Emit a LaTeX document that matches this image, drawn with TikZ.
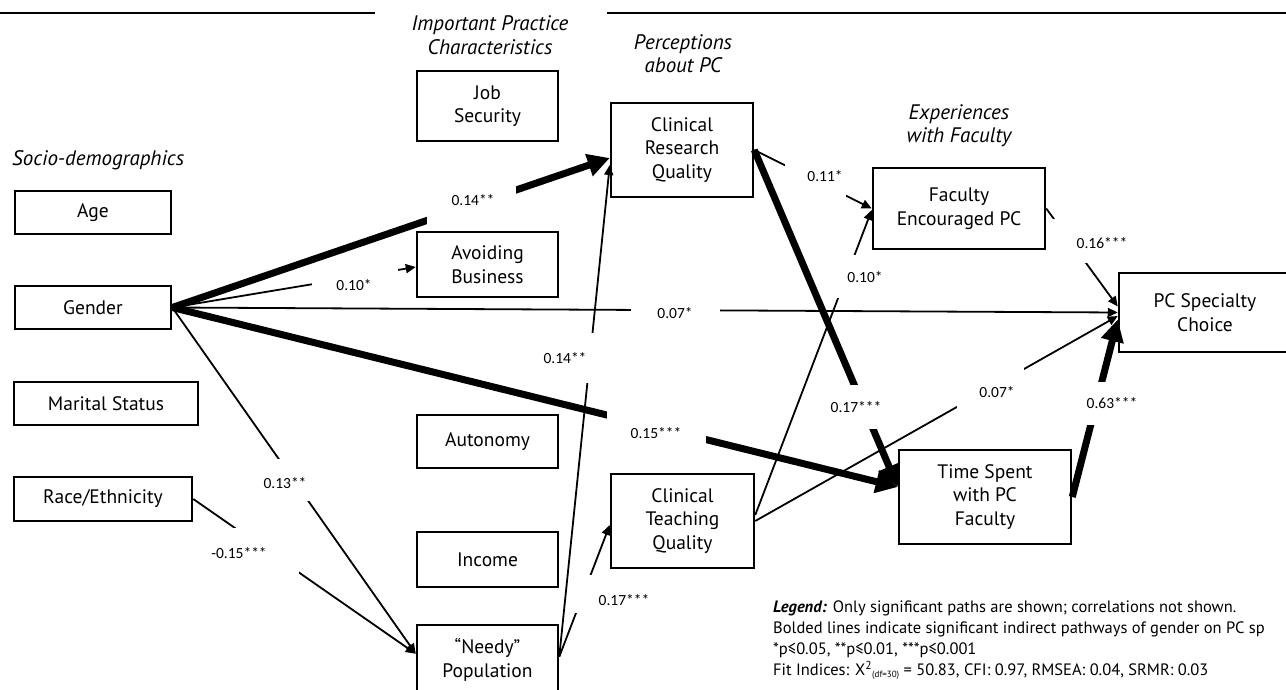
\documentclass[tikz,border=0pt]{standalone}
\usepackage{fontspec}
\setmainfont{PT Sans}
\newfontfamily\lblfont{Carlito}
\usetikzlibrary{arrows.meta,calc}
\begin{document}
\begin{tikzpicture}[x=1pt,y=-1pt,
  box/.style={draw, line width=2.5pt, inner sep=0pt, align=center, font=\fontsize{19.5}{23.5}\selectfont},
  hdr/.style={align=center, inner sep=0pt, font=\fontsize{21}{23.5}\selectfont\itshape},
  thinln/.style={line width=1.8pt, -{Triangle[length=10pt,width=9pt]}},
  thickln/.style={line width=7pt, -{Triangle[length=22pt,width=22pt]}},
  lbl/.style={inner sep=0pt, font=\lblfont\fontsize{15.5}{18}\selectfont},
  rule/.style={line width=2.5pt}
]
\useasboundingbox (0,0) rectangle (1286,690);
\fill[white] (0,0) rectangle (1286,690);

% top rules
\draw[rule] (0,13) -- (375,13);
\draw[rule] (607,13) -- (1286,13);

% headers
\node[hdr, anchor=west] (hsoc) at (12,160) {Socio-demographics};
\node[hdr] (hipc) at (490,35) {Important Practice\\Characteristics};
\node[hdr] (hper) at (683,53.5) {Perceptions\\about PC};
\node[hdr] (hexp) at (959,125.5) {Experiences\\with Faculty};

% boxes
\node[box, minimum width=156pt, minimum height=43pt] (age) at (93,212.5) {Age};
\node[box, minimum width=156pt, minimum height=43pt] (gender) at (93,307.5) {Gender};
\node[box, minimum width=184pt, minimum height=43pt] (marital) at (106,403.5) {Marital Status};
\node[box, minimum width=178pt, minimum height=44pt] (race) at (103,499) {Race/Ethnicity};
\node[box, minimum width=141pt, minimum height=70pt] (job) at (487.5,106) {Job\\Security};
\node[box, minimum width=141pt, minimum height=65pt] (avoid) at (487.5,264.5) {Avoiding\\Business};
\node[box, minimum width=141pt, minimum height=53pt] (auto) at (487.5,441.5) {Autonomy};
\node[box, minimum width=141pt, minimum height=55pt] (income) at (487.5,559.5) {Income};
\node[box, minimum width=141pt, minimum height=70pt] (needy) at (487.5,660) {“Needy”\\Population};
\node[box, minimum width=142pt, minimum height=94pt] (crq) at (682,150) {Clinical\\Research\\Quality};
\node[box, minimum width=143pt, minimum height=94pt] (ctq) at (682.5,521) {Clinical\\Teaching\\Quality};
\node[box, minimum width=172pt, minimum height=81pt] (fepc) at (959,208.5) {Faculty\\Encouraged PC};
\node[box, minimum width=172pt, minimum height=94pt] (time) at (985,497) {Time Spent\\with PC\\Faculty};
\node[box, minimum width=172pt, minimum height=79pt] (pcsc) at (1205,312.5) {PC Specialty\\Choice};

% connectors
\draw[thinln] (gender.east) -- ([yshift=-2.5pt]avoid.west);
\draw[thinln] (gender.east) -- (pcsc.west);
\draw[thinln] (gender.east) -- ([yshift=-30pt]needy.north west);
\draw[thinln] (race.east) -- ([yshift=-30pt]needy.north west);
\draw[thinln] ([yshift=-33pt]needy.north east) -- ([yshift=-15pt]crq.west);
\draw[thinln] ([yshift=-33pt]needy.north east) -- ([yshift=-4pt]ctq.west);
\draw[thinln] (crq.east) -- (fepc.west);
\draw[thinln] ([yshift=6pt]ctq.east) -- ([yshift=-1.5pt]fepc.west);
\draw[thinln] (ctq.east) -- ([yshift=-3.5pt]pcsc.west);
\draw[thinln] (fepc.east) -- ([yshift=6pt]pcsc.west);
\draw[thickln] (gender.east) -- ([yshift=-8pt]crq.west);
\draw[thickln] (gender.east) -- ([yshift=10pt]time.west);
\draw[thickln] (crq.east) -- ([yshift=10pt]time.west);
\draw[thickln] (time.east) -- ([yshift=-7pt]pcsc.west);

% label gaps
\fill[white] (427,175) rectangle (516,229);
\fill[white] (312,266) rectangle (398,298);
\fill[white] (631,300) rectangle (720,325);
\fill[white] (607,405) rectangle (706,452);
\fill[white] (260,459) rectangle (312,501);
\fill[white] (208,528) rectangle (299,578);
\fill[white] (534,333) rectangle (598,383);
\fill[white] (570,575) rectangle (655,613);
\fill[white] (828,385) rectangle (884,429);
\fill[white] (785,160) rectangle (846,200);
\fill[white] (836,255) rectangle (885,298);
\fill[white] (957,362) rectangle (1024,410);
\fill[white] (1050,219) rectangle (1130,263);
\fill[white] (1080,382) rectangle (1142,425);

% labels
\node[lbl] (l1) at (473,200) {0.14**};
\node[lbl] (l2) at (354,285) {0.10*};
\node[lbl] (l3) at (675,313) {0.07*};
\node[lbl] (l4) at (656,433) {0.15***};
\node[lbl] (l5) at (285,483) {0.13**};
\node[lbl] (l6) at (239,553) {-0.15***};
\node[lbl] (l7) at (565,358) {0.14**};
\node[lbl] (l8) at (624,600) {0.17***};
\node[lbl] (l9) at (856,407) {0.17***};
\node[lbl] (l10) at (825,176) {0.11*};
\node[lbl] (l11) at (865,277) {0.10*};
\node[lbl] (l12) at (997,392) {0.07*};
\node[lbl] (l13) at (1102,243) {0.16***};
\node[lbl] (l14) at (1112,403) {0.63***};

% legend
\node[anchor=north west, align=left, inner sep=0pt, font=\fontsize{16.5}{21}\selectfont] (legend) at (773,601)
 {\textbf{\textit{Legend:}} Only significant paths are shown; correlations not shown.\\
  Bolded lines indicate significant indirect pathways of gender on PC sp\\
  *p≤0.05, **p≤0.01, ***p≤0.001\\
  Fit Indices: X\textsuperscript{2}\raisebox{-2pt}{\fontsize{9}{10}\selectfont(df=30)} = 50.83, CFI: 0.97, RMSEA: 0.04, SRMR: 0.03};
\end{tikzpicture}
\end{document}
